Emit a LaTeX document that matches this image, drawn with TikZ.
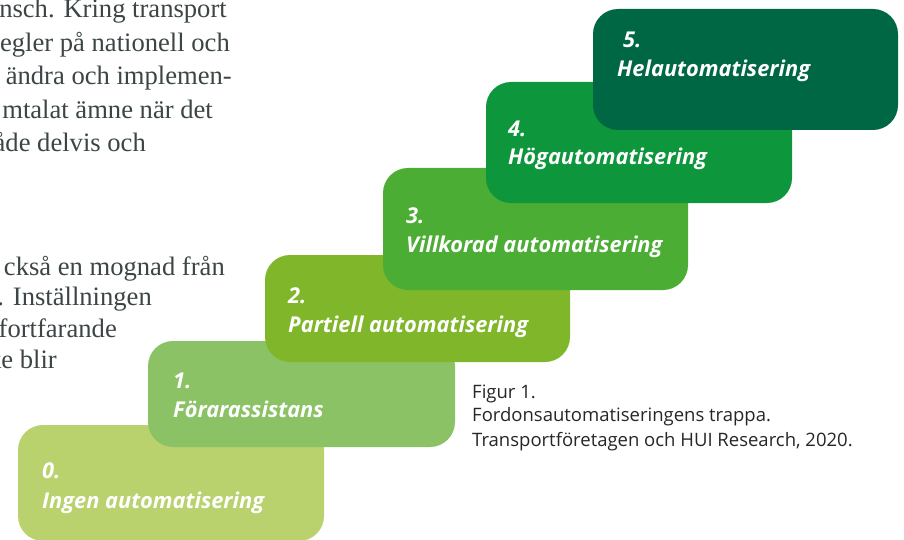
\documentclass[tikz,border=0pt]{standalone}
\usepackage{fontspec}
\setmainfont{Liberation Serif}
\newfontfamily\stepfont{Open Sans}
\definecolor{stepzero}{HTML}{B9D26E}
\definecolor{stepone}{HTML}{8BC265}
\definecolor{steptwo}{HTML}{80B72A}
\definecolor{stepthree}{HTML}{4BAD34}
\definecolor{stepfour}{HTML}{0D963C}
\definecolor{stepfive}{HTML}{006744}
\definecolor{bodygray}{HTML}{3C4545}
\begin{document}
\begin{tikzpicture}[x=1pt,y=-1pt,
	stepbox/.style={rounded corners=25pt},
	steplabel/.style={anchor=base west,inner sep=0pt,text=white,font=\stepfont\bfseries\itshape\fontsize{21.8}{24}\selectfont},
	bodyline/.style={anchor=base east,inner sep=0pt,text=bodygray,font=\fontsize{26.6}{33}\selectfont},
	captionline/.style={anchor=base west,inner sep=0pt,text=black!85,font=\stepfont\fontsize{18.5}{24}\selectfont}]
	\useasboundingbox (0,0) rectangle (904,540);
%	running text, cut at the left edge
	\node[bodyline] (para1a) at (227,18) {nsch. Kring transport};
	\node[bodyline] (para1b) at (230,52) {egler på nationell och};
	\node[bodyline] (para1c) at (232,85) {ändra och implemen-};
	\node[bodyline] (para1d) at (213,119) {mtalat ämne när det};
	\node[bodyline] (para1e) at (146,152) {åde delvis och};
	\node[bodyline] (para2a) at (225,275) {ckså en mognad från};
	\node[bodyline] (para2b) at (152,305) {. Inställningen};
	\node[bodyline] (para2c) at (117,337) {fortfarande};
	\node[bodyline] (para2d) at (57,368) {ke blir};
%	the stair, lowest step first
	\fill[stepzero,stepbox] (18,425) rectangle (324,541);
	\node[steplabel] (num0) at (42,478) {0.};
	\node[steplabel] (name0) at (42,508) {Ingen automatisering};
	\fill[stepone,stepbox] (148,341) rectangle (455,447);
	\node[steplabel] (num1) at (173,388) {1.};
	\node[steplabel] (name1) at (173,417) {Förarassistans};
	\fill[steptwo,stepbox] (265,255) rectangle (570,362);
	\node[steplabel] (num2) at (288,303) {2.};
	\node[steplabel] (name2) at (288,332) {Partiell automatisering};
	\fill[stepthree,stepbox] (383,168) rectangle (688,290);
	\node[steplabel] (num3) at (406,223) {3.};
	\node[steplabel] (name3) at (406,252) {Villkorad automatisering};
	\fill[stepfour,stepbox] (486,82) rectangle (792,203);
	\node[steplabel] (num4) at (508,137) {4.};
	\node[steplabel] (name4) at (508,165) {Högautomatisering};
	\fill[stepfive,stepbox] (593,9) rectangle (898,130);
	\node[steplabel] (num5) at (623,48) {5.};
	\node[steplabel] (name5) at (617,77) {Helautomatisering};
%	caption
	\node[captionline] (capa) at (472,398) {Figur 1.};
	\node[captionline] (capb) at (472,421) {Fordonsautomatiseringens trappa.};
	\node[captionline] (capc) at (472,446) {Transportföretagen och HUI Research, 2020.};
\end{tikzpicture}
\end{document}
